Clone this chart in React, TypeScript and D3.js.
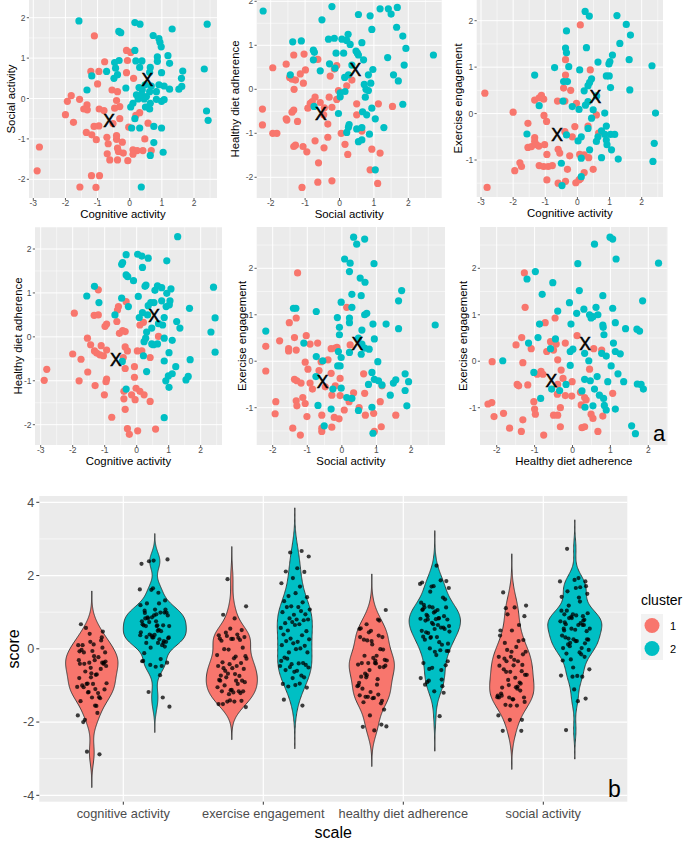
import React from "react";
import * as d3 from "d3";

type P = [number, number];

const RED = "#F8766D";
const TEAL = "#00BFC4";

// ---------- Panel a data (x, y) per cluster ----------
const cogSoc1: P[] = [[-1.10,1.55],[-0.10,1.19],[0.03,1.14],[-0.78,0.91],[-0.07,0.94],[-1.21,0.67],[-0.96,0.67],[-0.10,0.64],[0.12,0.50],[-1.00,0.36],[-0.55,0.21],[-0.38,0.17],[-1.82,0.07],[-1.56,-0.02],[-1.94,-0.07],[-0.41,-0.05],[-1.33,-0.16],[-1.43,-0.26],[-1.32,-0.28],[-0.95,-0.26],[-0.47,-0.24],[-0.31,-0.20],[-2.00,-0.40],[0.31,-0.35],[0.19,-0.42],[-0.31,-0.50],[-1.75,-0.59],[0.57,-0.61],[-1.11,-0.69],[-0.96,-0.68],[-0.03,-0.71],[-1.35,-0.84],[-1.18,-0.90],[-1.04,-1.02],[-0.71,-0.96],[-0.41,-0.92],[0.47,-1.00],[-0.67,-1.12],[-0.41,-1.01],[-0.23,-1.08],[-2.81,-1.20],[-0.35,-1.31],[-0.20,-1.35],[0.10,-1.27],[0.23,-1.29],[0.41,-1.29],[0.10,-1.38],[-0.70,-1.37],[-0.62,-1.52],[-0.38,-1.52],[-0.06,-1.54],[0.67,-1.29],[-2.88,-1.79],[-1.19,-1.91],[-0.94,-1.91],[-1.55,-2.19],[-1.05,-2.20],[-0.38,-1.23],[-0.52,-0.62],[-0.80,-0.30]];
const cogSoc2: P[] = [[-1.58,1.92],[0.16,1.88],[0.32,1.84],[1.32,1.72],[2.41,1.84],[-0.34,1.66],[-0.28,1.63],[0.73,1.56],[0.91,1.48],[0.94,1.39],[0.98,1.28],[0.16,1.19],[0.86,1.03],[1.19,1.06],[1.24,0.87],[0.86,0.92],[0.19,0.93],[0.38,0.93],[-0.33,0.94],[-0.47,0.89],[-0.44,0.75],[0.31,0.77],[0.64,0.77],[0.62,0.65],[0.99,0.64],[1.65,0.68],[2.32,0.73],[-0.72,0.67],[-1.18,0.56],[-0.38,0.59],[-0.49,0.50],[-0.12,0.26],[-1.33,0.21],[1.61,0.50],[1.62,0.30],[1.53,0.23],[1.24,0.23],[1.07,0.31],[0.91,0.34],[0.67,0.31],[0.48,0.34],[0.39,0.21],[0.29,0.27],[0.62,0.17],[0.83,0.17],[0.21,0.09],[0.31,0.02],[0.45,-0.01],[0.26,-0.01],[0.83,-0.02],[0.99,-0.07],[1.07,-0.03],[0.64,-0.12],[0.10,-0.12],[0.03,-0.21],[0.62,-0.26],[0.49,-0.21],[0.16,-0.50],[0.06,-0.73],[0.31,-0.73],[0.75,-0.69],[0.99,-0.73],[2.39,-0.31],[2.44,-0.54],[0.75,-1.09],[1.04,-1.33],[0.64,-1.41],[0.36,-2.19],[0.37,0.09],[0.52,0.05]];

const socDiet1: P[] = [[-1.94,0.49],[-1.55,0.57],[-1.33,0.78],[-1.03,0.80],[-0.63,0.68],[-1.45,0.27],[-1.38,0.23],[-1.28,0.21],[-1.14,0.35],[-0.99,0.44],[-1.32,0.00],[-1.05,0.14],[-0.27,0.30],[-0.15,0.46],[-0.08,0.54],[0.36,0.21],[0.21,0.08],[-0.03,-0.03],[-0.08,-0.23],[-0.30,-0.18],[-2.24,-0.45],[-2.24,-0.81],[-1.94,-1.00],[-1.82,-1.00],[-1.55,-0.67],[-1.53,-0.70],[-1.33,-0.47],[-1.38,-0.52],[-1.22,-0.73],[-0.92,-0.43],[-0.85,-0.32],[-0.71,-0.18],[-0.79,-0.28],[-0.56,-0.30],[-0.44,-0.42],[-0.22,-0.41],[-0.46,-0.58],[-0.34,-0.79],[-0.34,-1.09],[-0.71,-1.17],[-0.45,-1.33],[-1.06,-1.30],[-0.95,-1.42],[-1.33,-1.30],[-1.28,-1.27],[0.05,-1.00],[0.16,-1.25],[0.24,-1.48],[0.50,-0.33],[0.50,-0.58],[0.65,-0.95],[0.94,-1.36],[1.18,-1.45],[1.13,-0.33],[1.54,-0.39],[-0.61,-1.67],[-0.63,-2.11],[-0.22,-2.08],[-1.09,-2.23],[1.11,-2.14],[0.89,-1.83]];
const socDiet2: P[] = [[-2.22,1.78],[-0.22,1.88],[-0.51,1.58],[1.42,1.83],[1.68,1.86],[1.18,1.83],[1.50,1.71],[1.66,1.41],[0.94,1.36],[0.89,1.67],[0.55,1.70],[1.84,1.21],[1.93,0.93],[2.73,0.78],[-1.36,1.08],[-1.11,1.10],[-0.32,1.14],[-0.15,1.16],[0.07,1.14],[0.25,1.25],[0.21,1.11],[0.31,1.02],[0.65,1.06],[-0.76,0.89],[-0.73,0.84],[-0.10,0.82],[0.12,0.82],[0.48,0.87],[0.52,0.82],[0.55,0.78],[-0.76,0.67],[-0.29,0.58],[-0.56,0.42],[-1.43,0.33],[-0.13,0.48],[0.15,0.27],[0.26,0.33],[0.36,0.55],[0.70,0.67],[0.84,0.33],[0.97,0.45],[0.91,0.14],[0.72,0.11],[0.77,0.00],[0.84,-0.03],[0.75,-0.18],[1.40,0.72],[1.57,0.33],[1.71,0.19],[1.88,0.55],[0.02,-0.08],[0.02,-0.17],[0.16,-0.05],[-0.03,-0.55],[-0.74,-0.39],[0.67,-0.51],[0.79,-0.58],[0.94,-0.43],[1.04,-0.67],[1.29,-0.87],[0.28,-0.80],[0.26,-0.86],[0.21,-0.98],[0.50,-0.90],[0.65,-0.87],[0.87,-1.02],[0.55,-1.19],[0.65,-1.15],[1.04,-1.83],[1.84,-0.34]];

const cogEx1: P[] = [[-2.88,0.44],[-2.81,-1.59],[-2.00,0.03],[-1.95,-1.23],[-1.79,-1.06],[-1.74,-1.14],[-1.54,-0.21],[-1.54,-0.73],[-1.43,-0.71],[-1.33,-0.52],[-1.33,-0.60],[-1.28,-0.67],[-1.20,-0.70],[-1.33,0.29],[-1.19,0.34],[-1.12,0.39],[-1.05,0.31],[-1.04,-0.04],[-0.96,-0.17],[-1.02,-0.67],[-0.95,-0.88],[-1.19,-1.12],[-1.05,-1.14],[-0.91,-1.14],[-0.78,-1.12],[-0.95,-1.43],[-0.37,1.16],[-0.37,0.83],[-0.43,0.55],[-0.21,0.50],[-0.62,0.27],[-0.39,0.27],[-0.39,-0.39],[-0.60,-0.77],[-0.55,-0.85],[-0.24,-0.91],[-0.31,-1.20],[-0.60,-1.50],[-0.37,-1.46],[-0.08,-0.28],[-0.16,-0.50],[0.07,-0.88],[0.21,-0.89],[0.35,-0.95],[0.33,-0.27],[0.59,-0.03],[0.40,0.94],[0.09,1.91],[0.49,-1.20],[0.21,-1.27],[0.05,-1.43],[-0.05,-1.49],[0.10,-1.40],[-0.03,0.22],[0.66,-0.42]];
const cogEx2: P[] = [[0.24,2.20],[0.37,2.10],[1.23,2.11],[1.52,1.92],[1.65,1.69],[1.32,1.51],[-0.34,1.78],[-0.37,1.41],[-0.34,1.31],[0.28,1.42],[1.09,1.26],[1.01,1.12],[0.98,1.07],[1.61,1.16],[2.32,1.03],[0.64,1.11],[-0.71,0.99],[-0.27,1.01],[0.07,0.94],[-1.33,0.83],[-0.43,0.69],[-0.31,0.69],[0.44,0.75],[0.38,0.67],[0.33,0.60],[0.90,0.81],[0.99,0.81],[0.21,0.49],[1.03,0.56],[1.63,0.51],[-0.45,0.27],[-0.16,0.15],[0.05,0.09],[-1.19,0.17],[0.33,0.26],[0.49,0.08],[0.44,-0.10],[0.85,0.01],[2.43,0.01],[0.90,-0.27],[0.75,-0.37],[1.03,-0.45],[0.85,-0.45],[0.90,-0.57],[0.64,-0.50],[0.59,-0.60],[0.92,-0.67],[1.16,-0.45],[1.06,-0.78],[-0.34,-0.46],[0.02,-0.59],[0.12,-0.50],[0.33,-0.32],[0.38,-0.78],[0.75,-0.95],[1.27,-0.98],[2.39,-0.64],[2.35,-1.03],[-1.57,-0.44],[-0.50,-1.07],[0.12,-0.96],[0.12,-1.36],[-0.48,-1.55],[0.60,0.38],[0.25,0.18]];

const cogDiet1: P[] = [[-1.20,1.07],[-1.95,0.54],[-1.33,0.49],[-1.20,0.50],[-0.94,0.29],[-0.99,0.24],[-0.60,0.61],[-0.57,0.69],[-0.62,0.35],[-0.33,0.80],[-0.54,0.08],[-0.44,0.14],[-0.36,0.12],[0.10,0.27],[0.21,0.33],[0.68,0.01],[-1.54,-0.03],[-1.44,-0.18],[-1.32,-0.32],[-1.25,-0.37],[-1.15,-0.41],[-1.04,-0.43],[-1.11,-0.20],[-0.94,-0.30],[-2.00,-0.39],[-1.74,-0.51],[-1.53,-0.80],[-1.30,-1.11],[-1.80,-1.00],[-0.94,-0.96],[-0.96,-1.02],[-1.01,-1.32],[-2.89,-0.99],[-2.81,-0.74],[-0.36,-0.23],[-0.29,-0.32],[-0.36,-0.72],[-0.42,-0.47],[0.02,-0.32],[0.16,-0.32],[-0.07,-0.68],[-0.07,-0.92],[-0.02,-1.17],[0.10,-1.24],[0.23,-1.32],[-0.16,-1.32],[-0.05,-1.43],[-0.40,-1.24],[-0.40,-1.41],[-0.36,-1.65],[-0.78,-1.83],[-0.29,-2.09],[-0.23,-2.22],[0.03,-2.14],[0.59,-2.10],[0.42,-1.47],[0.42,-0.47]];
const cogDiet2: P[] = [[1.28,2.28],[-0.33,1.87],[0.03,1.88],[0.16,1.84],[0.36,1.79],[0.94,1.73],[-0.44,1.69],[-0.47,1.65],[0.18,1.58],[-0.33,1.41],[-0.28,1.37],[-0.10,1.28],[0.29,1.18],[0.26,1.15],[0.65,1.16],[0.78,1.12],[0.57,1.06],[1.07,1.09],[0.94,0.99],[0.05,0.92],[-1.32,1.15],[-1.56,0.93],[-1.18,0.78],[-0.47,0.88],[-0.26,0.69],[-0.68,0.50],[0.36,0.71],[0.44,0.78],[0.54,0.78],[0.78,0.82],[1.04,0.82],[1.02,0.73],[0.92,0.69],[0.18,0.55],[0.08,0.44],[0.34,0.50],[0.86,0.44],[1.25,0.35],[1.35,0.20],[0.68,0.30],[0.81,0.27],[0.47,0.20],[0.31,0.11],[0.28,-0.03],[0.23,-0.11],[0.47,-0.16],[0.65,-0.16],[0.86,-0.03],[1.11,-0.08],[1.01,-0.36],[2.32,0.11],[2.45,0.43],[2.40,1.13],[2.45,-0.35],[1.65,0.65],[1.67,-0.52],[1.61,-0.90],[1.54,-0.98],[1.22,-0.68],[1.11,-0.84],[0.99,-0.89],[0.91,-1.00],[1.01,-1.15],[0.86,-0.55],[0.21,-0.43],[0.31,-0.79],[-0.45,-0.56],[-0.33,-1.19],[0.86,-1.84],[0.52,-0.18]];

const socEx1: P[] = [[-1.28,1.90],[0.14,1.16],[-1.52,0.83],[-1.32,0.93],[-1.37,0.51],[-1.03,0.55],[-0.92,0.37],[-0.70,0.39],[-1.80,0.44],[-2.20,0.32],[-1.54,0.27],[-1.54,0.22],[-1.32,0.24],[-1.06,-0.02],[-0.98,-0.17],[-2.20,-0.21],[-0.60,-0.01],[-0.40,0.03],[-0.31,0.27],[-0.19,0.28],[-0.14,0.30],[0.24,0.35],[-0.66,-0.20],[-0.31,-0.26],[-0.05,-0.37],[-1.37,-0.39],[-1.30,-0.42],[-1.18,-0.47],[-0.92,-0.47],[-0.85,-0.60],[-0.48,-0.55],[-0.19,-0.53],[-0.29,-0.73],[-0.05,-0.74],[0.34,-0.68],[0.63,-0.27],[0.66,-0.69],[1.16,-0.53],[-1.91,-0.87],[-1.93,-1.13],[-1.32,-0.85],[-1.30,-0.96],[-1.13,-0.78],[-1.06,-0.91],[-1.01,-1.19],[-0.58,-1.16],[-0.22,-1.21],[-0.08,-1.24],[0.07,-1.05],[0.21,-0.87],[0.50,-1.00],[0.68,-1.16],[0.92,-1.12],[1.11,-0.87],[1.56,-1.16],[-1.42,-1.44],[-1.20,-1.59],[-0.58,-1.44],[-0.58,-1.51],[-0.29,-1.42],[1.14,-1.41],[0.94,-1.51]];
const socEx2: P[] = [[0.34,2.67],[0.66,2.63],[0.43,2.52],[0.08,2.20],[0.24,2.11],[0.93,2.10],[0.22,1.93],[0.53,1.79],[0.67,1.70],[0.29,1.44],[0.56,1.41],[1.73,1.52],[1.64,1.30],[-0.02,1.27],[0.29,1.16],[-0.74,1.07],[-1.40,1.14],[-1.33,1.14],[-0.13,0.94],[0.22,0.93],[0.66,1.00],[0.72,1.03],[0.22,0.83],[0.90,0.80],[1.28,0.80],[1.64,0.70],[2.70,0.78],[-0.07,0.73],[-0.07,0.57],[0.58,0.67],[0.48,0.50],[0.94,0.48],[-2.20,0.65],[-1.10,0.39],[0.58,0.37],[0.66,0.28],[0.79,0.26],[0.22,0.19],[-0.10,0.21],[-0.02,0.08],[0.56,0.15],[-0.74,0.10],[-0.55,0.01],[-0.12,-0.10],[-0.05,-0.10],[1.04,-0.01],[0.87,-0.24],[0.94,-0.39],[1.06,-0.42],[1.49,-0.47],[1.56,-0.40],[1.83,-0.27],[1.93,-0.44],[1.83,-0.63],[1.88,-0.96],[1.40,-0.73],[0.77,-0.50],[1.16,-0.51],[-0.26,-0.60],[-0.02,-0.58],[0.14,-0.78],[0.29,-0.80],[-0.75,-0.33],[-0.69,-0.95],[-0.31,-1.03],[0.48,-1.06],[0.87,-0.99],[-0.51,-1.39],[0.90,-1.55]];

const dietEx1: P[] = [[-1.27,1.90],[-1.25,1.16],[-0.72,0.83],[-0.46,0.93],[-1.34,0.51],[-1.09,0.27],[-1.49,0.35],[-0.58,0.42],[-0.43,0.37],[-0.19,0.39],[-0.68,0.21],[-0.50,0.24],[0.12,0.55],[0.56,0.27],[0.77,0.24],[-1.31,-0.03],[-2.12,-0.01],[-0.39,0.03],[-1.46,-0.50],[-1.42,-0.53],[-1.18,-0.51],[-0.93,-0.28],[-0.83,-0.22],[-0.78,-0.28],[-0.30,-0.19],[-0.25,-0.37],[-0.39,-0.50],[-0.01,-0.44],[0.45,-0.17],[-1.02,-0.87],[-0.40,-0.71],[-0.19,-0.74],[-0.02,-0.75],[0.21,-0.67],[0.32,-0.78],[0.36,-0.83],[0.23,-0.94],[1.06,-0.69],[-2.23,-0.92],[-2.13,-0.89],[-2.07,-1.19],[-1.82,-1.12],[-1.00,-1.03],[-0.98,-1.14],[-1.31,-1.26],[-1.66,-1.44],[-1.35,-1.51],[-0.76,-1.59],[-0.50,-1.16],[-0.39,-1.16],[-0.32,-1.00],[-0.32,-1.41],[0.25,-1.43],[0.32,-1.41],[0.49,-1.14],[0.54,-1.23],[0.80,-1.18],[0.67,-1.51]];
const dietEx2: P[] = [[0.99,2.67],[1.06,2.63],[0.58,2.52],[1.15,2.20],[0.14,2.10],[2.27,2.11],[-0.98,1.93],[-1.20,1.77],[-0.52,1.69],[-0.80,1.44],[0.18,1.52],[0.80,1.41],[1.85,1.30],[-0.08,1.26],[-0.39,1.08],[0.11,1.03],[0.30,1.12],[0.62,1.16],[1.06,1.14],[0.45,1.00],[0.54,0.96],[0.67,1.00],[0.49,0.93],[-0.04,0.80],[-0.87,0.80],[0.80,0.78],[0.81,0.73],[1.13,0.83],[1.40,0.70],[1.70,0.69],[1.77,0.65],[0.83,0.57],[-0.91,0.51],[-0.45,0.48],[-1.16,0.39],[1.08,0.39],[-0.58,0.27],[0.01,0.26],[-0.06,0.21],[0.32,0.17],[0.77,0.17],[0.89,0.11],[1.13,0.21],[1.26,0.16],[-1.84,0.01],[0.43,0.01],[-0.06,-0.09],[1.02,-0.10],[1.20,-0.27],[-1.02,-0.24],[0.32,-0.39],[0.47,-0.42],[0.65,-0.33],[0.93,-0.44],[1.35,-0.44],[1.71,-0.49],[1.81,-0.50],[1.87,-0.60],[-0.55,-0.60],[-0.34,-0.63],[-0.17,-0.50],[0.25,-0.64],[0.58,-0.60],[0.71,-0.73],[0.82,-0.80],[0.84,-0.95],[0.89,-1.05],[1.13,-1.03],[0.54,-0.96],[0.33,-0.99],[-0.84,-0.80],[1.56,-1.39],[1.66,-1.56]];

// cluster centroids per panel: [cluster1, cluster2]
const cent1: P[] = [[-0.64, -0.54], [0.55, 0.46]];
const cent2: P[] = [[-0.54, -0.55], [0.46, 0.45]];
const cent3: P[] = [[-0.63, -0.45], [0.56, 0.37]];
const cent4: P[] = [[-0.65, -0.52], [0.54, 0.49]];
const cent5: P[] = [[-0.56, -0.44], [0.45, 0.37]];
const cent6: P[] = [[-0.56, -0.42], [0.33, 0.37]];

const ticksCog = [-3, -2, -1, 0, 1, 2];
const ticksStd = [-2, -1, 0, 1, 2];
const ticksEx = [-1, 0, 1, 2];

// ---------- Panel b data ----------
const scaleNames = ["cognitive activity", "exercise engagement", "healthy diet adherence", "social activity"];
const clusters = ["1", "2"];
const scoreTicks = [-4, -2, 0, 2, 4];

const FONT = "'Liberation Sans', Arial, Helvetica, sans-serif";

type PanelDef = {
  rect: [number, number, number, number];
  xa: [number, number, number, number];
  ya: [number, number, number, number];
  xTicks: number[];
  yTicks: number[];
  xLabel: string;
  yLabel: string;
  yLabelX: number;
  d1: P[];
  d2: P[];
  cent: P[];
  id: string;
};

const panels: PanelDef[] = [
  { id: "p1", rect: [29, 217, 0, 198], xa: [-3, 33.3, 2, 194], ya: [2, 17.7, -2, 179.3], xTicks: ticksCog, yTicks: ticksStd, xLabel: "Cognitive activity", yLabel: "Social activity", yLabelX: 15, d1: cogSoc1, d2: cogSoc2, cent: cent1 },
  { id: "p2", rect: [256.7, 441.7, 0, 198], xa: [-2, 270.7, 2, 408.3], ya: [1, 45.3, -2, 177.3], xTicks: ticksStd, yTicks: ticksStd, xLabel: "Social activity", yLabel: "Healthy diet adherence", yLabelX: 239, d1: socDiet1, d2: socDiet2, cent: cent2 },
  { id: "p3", rect: [476.7, 663, 0, 197], xa: [-3, 481, 2, 641.7], ya: [2, 20.7, -1, 160], xTicks: ticksCog, yTicks: ticksEx, xLabel: "Cognitive activity", yLabel: "Exercise engagement", yLabelX: 462, d1: cogEx1, d2: cogEx2, cent: cent3 },
  { id: "p4", rect: [35, 222, 227, 445], xa: [-3, 40.7, 2, 200.7], ya: [2, 249, -2, 424.7], xTicks: ticksCog, yTicks: ticksStd, xLabel: "Cognitive activity", yLabel: "Healthy diet adherence", yLabelX: 22, d1: cogDiet1, d2: cogDiet2, cent: cent4 },
  { id: "p5", rect: [256.7, 445, 227, 445], xa: [-2, 272.7, 2, 411], ya: [2, 268.3, -1, 407.7], xTicks: ticksStd, yTicks: ticksEx, xLabel: "Social activity", yLabel: "Exercise engagement", yLabelX: 246, d1: socEx1, d2: socEx2, cent: cent5 },
  { id: "p6", rect: [480, 667.7, 227, 445], xa: [-2, 496.7, 2, 648.3], ya: [2, 268.3, -1, 407.7], xTicks: ticksStd, yTicks: ticksEx, xLabel: "Healthy diet adherence", yLabel: "Exercise engagement", yLabelX: 467, d1: dietEx1, d2: dietEx2, cent: cent6 },
];

function Scatter({ p }: { p: PanelDef }) {
  const [x0, x1, y0, y1] = p.rect;
  const xs = d3.scaleLinear().domain([p.xa[0], p.xa[2]]).range([p.xa[1], p.xa[3]]);
  const ys = d3.scaleLinear().domain([p.ya[0], p.ya[2]]).range([p.ya[1], p.ya[3]]);
  const xdom = [xs.invert(x0), xs.invert(x1)];
  const ydom = [ys.invert(y1), ys.invert(y0)];
  const minorX = d3.range(Math.ceil(xdom[0] - 0.5) + 0.5, xdom[1], 1).filter((v) => v > xdom[0]);
  const minorY = d3.range(Math.ceil(ydom[0] - 0.5) + 0.5, ydom[1], 1).filter((v) => v > ydom[0]);
  const xfs = 8.5;
  return (
    <g>
      <defs>
        <clipPath id={"clip" + p.id}>
          <rect x={x0} y={y0} width={x1 - x0} height={y1 - y0} />
        </clipPath>
      </defs>
      <rect x={x0} y={y0} width={x1 - x0} height={y1 - y0} fill="#EBEBEB" />
      {minorX.map((v) => (
        <line key={"mx" + v} x1={xs(v)} x2={xs(v)} y1={y0} y2={y1} stroke="#fff" strokeWidth={0.5} />
      ))}
      {minorY.map((v) => (
        <line key={"my" + v} x1={x0} x2={x1} y1={ys(v)} y2={ys(v)} stroke="#fff" strokeWidth={0.5} />
      ))}
      {p.xTicks.map((v) => (
        <line key={"gx" + v} x1={xs(v)} x2={xs(v)} y1={y0} y2={y1} stroke="#fff" strokeWidth={1} />
      ))}
      {p.yTicks.map((v) => (
        <line key={"gy" + v} x1={x0} x2={x1} y1={ys(v)} y2={ys(v)} stroke="#fff" strokeWidth={1} />
      ))}
      <g clipPath={`url(#clip${p.id})`}>
        {p.d1.map((d, i) => (
          <circle key={"a" + i} cx={xs(d[0])} cy={ys(d[1])} r={3.6} fill={RED} />
        ))}
        {p.d2.map((d, i) => (
          <circle key={"b" + i} cx={xs(d[0])} cy={ys(d[1])} r={3.6} fill={TEAL} />
        ))}
        {p.cent.map((d, i) => (
          <text key={"c" + i} x={xs(d[0])} y={ys(d[1]) + 6.2} textAnchor="middle" fontSize={17.5} fontFamily={FONT} fill="#000" stroke="#000" strokeWidth={0.5}>
            X
          </text>
        ))}
      </g>
      {p.xTicks.map((v) => (
        <g key={"tx" + v}>
          <line x1={xs(v)} x2={xs(v)} y1={y1} y2={y1 + 2.2} stroke="#333" strokeWidth={0.8} />
          <text x={xs(v)} y={y1 + 8.4} textAnchor="middle" fontSize={xfs} fontFamily={FONT} fill="#4D4D4D">
            {v}
          </text>
        </g>
      ))}
      {p.yTicks.map((v) => (
        <g key={"ty" + v}>
          <line x1={x0 - 2.2} x2={x0} y1={ys(v)} y2={ys(v)} stroke="#333" strokeWidth={0.8} />
          <text x={x0 - 3.5} y={ys(v) + 3} textAnchor="end" fontSize={xfs} fontFamily={FONT} fill="#4D4D4D">
            {v}
          </text>
        </g>
      ))}
      <text x={(x0 + x1) / 2} y={y1 + 19.8} textAnchor="middle" fontSize={11.4} fontFamily={FONT} fill="#000">
        {p.xLabel}
      </text>
      <text transform={`translate(${p.yLabelX},${(y0 + y1) / 2}) rotate(-90)`} textAnchor="middle" fontSize={11.4} fontFamily={FONT} fill="#000">
        {p.yLabel}
      </text>
    </g>
  );
}

function kde(values: number[]) {
  const n = values.length;
  const sorted = values.slice().sort(d3.ascending);
  const sd = d3.deviation(sorted) as number;
  const iqr = (d3.quantile(sorted, 0.75) as number) - (d3.quantile(sorted, 0.25) as number);
  const bw = 0.9 * Math.min(sd, iqr / 1.34) * Math.pow(n, -0.2);
  const lo = sorted[0] - 3 * bw;
  const hi = sorted[n - 1] + 3 * bw;
  const N = 200;
  return d3.range(N + 1).map((i) => {
    const y = lo + ((hi - lo) * i) / N;
    const d = d3.sum(sorted, (v) => Math.exp(-0.5 * ((y - v) / bw) ** 2)) / (n * bw * Math.sqrt(2 * Math.PI));
    return [y, d] as [number, number];
  });
}

function Violins() {
  const X0 = 39.3, X1 = 627.3, Y0 = 496, Y1 = 801.7;
  const xs = d3.scalePoint<string>().domain(scaleNames).range([X0, X1]).padding(0.6);
  const dodge = d3.scaleBand<string>().domain(clusters).range([-63, 63]);
  const ys = d3.scaleLinear().domain([-4, 4]).range([795.3, 502.3]);
  const groups: { scale: string; cl: string; vals: number[] }[] = [
    { scale: scaleNames[0], cl: "1", vals: cogSoc1.map((d) => d[0]) },
    { scale: scaleNames[0], cl: "2", vals: cogSoc2.map((d) => d[0]) },
    { scale: scaleNames[1], cl: "1", vals: socEx1.map((d) => d[1]) },
    { scale: scaleNames[1], cl: "2", vals: socEx2.map((d) => d[1]) },
    { scale: scaleNames[2], cl: "1", vals: dietEx1.map((d) => d[0]) },
    { scale: scaleNames[2], cl: "2", vals: dietEx2.map((d) => d[0]) },
    { scale: scaleNames[3], cl: "1", vals: socDiet1.map((d) => d[0]) },
    { scale: scaleNames[3], cl: "2", vals: socDiet2.map((d) => d[0]) },
  ];
  const dens = groups.map((g) => kde(g.vals));
  const maxD = d3.max(dens.flat(), (d) => d[1]) as number;
  const halfW = dodge.bandwidth() / 2;
  const yMinor = [-3, -1, 1, 3];
  return (
    <g>
      <rect x={X0} y={Y0} width={X1 - X0} height={Y1 - Y0} fill="#EBEBEB" />
      {yMinor.map((v) => (
        <line key={"m" + v} x1={X0} x2={X1} y1={ys(v)} y2={ys(v)} stroke="#fff" strokeWidth={0.6} />
      ))}
      {scoreTicks.map((v) => (
        <line key={"g" + v} x1={X0} x2={X1} y1={ys(v)} y2={ys(v)} stroke="#fff" strokeWidth={1.2} />
      ))}
      {scaleNames.map((s) => (
        <line key={"v" + s} x1={xs(s)} x2={xs(s)} y1={Y0} y2={Y1} stroke="#fff" strokeWidth={1.2} />
      ))}
      {groups.map((g, gi) => {
        const cx = (xs(g.scale) as number) + (dodge(g.cl) as number) + halfW;
        const area = d3
          .area<[number, number]>()
          .y((d) => ys(d[0]))
          .x0((d) => cx - (d[1] / maxD) * halfW)
          .x1((d) => cx + (d[1] / maxD) * halfW)
          .curve(d3.curveLinear);
        return (
          <path key={"vi" + gi} d={area(dens[gi]) as string} fill={g.cl === "1" ? RED : TEAL} stroke="#333" strokeWidth={0.9} />
        );
      })}
      {groups.map((g, gi) => {
        const cx = (xs(g.scale) as number) + (dodge(g.cl) as number) + halfW;
        return g.vals.map((v, i) => {
          const jit = ((((i + 1) * 0.6180339887 + gi * 0.37) % 1) - 0.5) * 30;
          return <circle key={`pt${gi}-${i}`} cx={cx + jit} cy={ys(v)} r={2.1} fill="#000" fillOpacity={0.75} />;
        });
      })}
      {scoreTicks.map((v) => (
        <g key={"ty" + v}>
          <line x1={X0 - 3} x2={X0} y1={ys(v)} y2={ys(v)} stroke="#333" strokeWidth={1} />
          <text x={X0 - 5} y={ys(v) + 4.3} textAnchor="end" fontSize={12.6} fontFamily={FONT} fill="#4D4D4D">
            {v}
          </text>
        </g>
      ))}
      {scaleNames.map((s) => (
        <g key={"tx" + s}>
          <line x1={xs(s)} x2={xs(s)} y1={Y1} y2={Y1 + 3} stroke="#333" strokeWidth={1} />
          <text x={xs(s)} y={Y1 + 16.5} textAnchor="middle" fontSize={12.8} fontFamily={FONT} fill="#4D4D4D">
            {s}
          </text>
        </g>
      ))}
      <text x={(X0 + X1) / 2} y={838} textAnchor="middle" fontSize={16} fontFamily={FONT} fill="#000">
        scale
      </text>
      <text transform={`translate(19,${(Y0 + Y1) / 2}) rotate(-90)`} textAnchor="middle" fontSize={16} fontFamily={FONT} fill="#000">
        score
      </text>
      <text x={608} y={797} fontSize={23} fontFamily={FONT} fill="#000">
        b
      </text>
      <text x={641} y={605} fontSize={14} fontFamily={FONT} fill="#000">
        cluster
      </text>
      {clusters.map((c, i) => (
        <g key={"lg" + c}>
          <rect x={641} y={614 + i * 23} width={22} height={23} fill="#F2F2F2" />
          <circle cx={652} cy={625.5 + i * 23} r={7.5} fill={c === "1" ? RED : TEAL} />
          <text x={670} y={629.5 + i * 23} fontSize={11} fontFamily={FONT} fill="#000">
            {c}
          </text>
        </g>
      ))}
    </g>
  );
}

export default function App() {
  return (
    <svg width={685} height={842} style={{ position: "absolute", left: 0, top: 0, background: "#fff" }}>
      <rect x={0} y={0} width={685} height={842} fill="#fff" />
      {panels.map((p) => (
        <Scatter key={p.id} p={p} />
      ))}
      <text x={653} y={441} fontSize={22} fontFamily={FONT} fill="#000">
        a
      </text>
      <Violins />
    </svg>
  );
}
